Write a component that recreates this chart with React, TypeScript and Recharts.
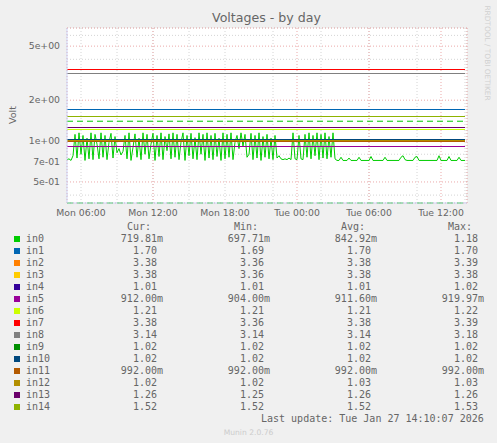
import { LineChart, Line, XAxis, YAxis, CartesianGrid, ReferenceLine } from 'recharts';

// time axis in minutes from Mon 00:00, samples every 10 minutes from Mon 04:50
const startMinute = 290;
const stepMinutes = 10;
const endMinute = 2290;

const timeTicks = [360, 720, 1080, 1440, 1800, 2160];
const timeLabels = ['Mon 06:00', 'Mon 12:00', 'Mon 18:00', 'Tue 00:00', 'Tue 06:00', 'Tue 12:00'];
const hourTicks = Array.from({ length: 34 }, (_, i) => 300 + i * 60);

const voltTicks = [0.5, 0.7, 1, 2, 5];
const voltLabels = ['5e-01', '7e-01', '1e+00', '2e+00', '5e+00'];
const minorVoltTicks = [0.4, 0.6, 0.8, 3, 4, 6];

const seriesNames = ['in0', 'in1', 'in2', 'in3', 'in4', 'in5', 'in6', 'in7', 'in8', 'in9', 'in10', 'in11', 'in12', 'in13', 'in14'];
const seriesColors = ['#00CC00', '#0066B3', '#FF8000', '#FFCC00', '#330099', '#990099', '#CCFF00', '#FF0000', '#808080', '#008F00', '#00487D', '#B35A00', '#B38F00', '#6B006B', '#8FB300'];

// in0 is the only one that moves
const in0Values = [
  0.73, 0.74, 0.72, 0.78,
  1.12, 0.75, 1.15, 0.8, 1.1, 0.72, 1.05, 0.74, 1.15, 0.73,
  1.12, 0.95, 0.74, 1.15, 0.76, 1.1, 0.73, 0.98, 1.14, 0.75,
  1.08, 0.82, 0.88, 0.79, 0.84, 1.1, 0.74, 1.15, 0.72, 0.9,
  1.13, 0.76, 1.05, 0.73, 1.15, 0.8, 1.12, 0.74, 0.95, 1.14,
  0.72, 1.1, 0.77, 1.15, 0.73, 1.08, 0.85, 1.13, 0.74, 1.15,
  0.76, 1.12, 0.73, 0.98, 1.15, 0.72, 1.1, 0.78, 1.14, 0.74,
  1.06, 0.73, 1.15, 0.8, 1.12, 0.72, 1.15, 0.75, 1.1, 0.73,
  1.14, 0.77, 1.05, 0.72, 1.15, 0.74, 1.12, 0.76, 1.15, 0.73,
  0.98, 1.1, 0.88, 1.15, 0.92, 1.12, 0.76, 0.8, 1.14, 0.73,
  1.1, 0.75, 1.15, 0.72, 1.08, 0.76,
  1.12, 0.74, 1.05, 0.73, 1.1, 0.75, 0.78, 0.74,
  0.73, 0.74, 0.73, 0.75, 0.73, 1.15,
  0.74, 0.73, 1.1, 0.74,
  0.73,
  1.12, 0.76, 1.15, 0.74, 1.1, 0.78, 1.15, 0.73, 1.12, 0.75, 1.15, 0.74, 1.08, 0.76, 1.15, 0.74,
  0.72, 0.72, 0.76, 0.72, 0.72, 0.72, 0.75, 0.72, 0.72, 0.72,
  0.72, 0.76, 0.72, 0.72, 0.72, 0.72, 0.72, 0.77, 0.72, 0.72,
  0.72, 0.72, 0.72, 0.72, 0.76, 0.72, 0.72, 0.72, 0.72, 0.72,
  0.72, 0.72, 0.76, 0.78, 0.73, 0.72, 0.72, 0.72, 0.72, 0.76,
  0.77, 0.72, 0.72, 0.72, 0.72, 0.72, 0.72, 0.72, 0.72, 0.72,
  0.72, 0.78, 0.72, 0.72, 0.72, 0.72, 0.77, 0.72, 0.72, 0.72,
  0.72, 0.76, 0.72, 0.72, 0.72,
];

// the other sensors sit flat for the whole day
const flatLevels = [0, 1.7, 3.38, 3.38, 1.01, 0.912, 1.21, 3.38, 3.14, 1.02, 1.024, 0.992, 1.018, 1.26, 1.52];

const in0Warn = [1.4, 0.35];

const curVals = ['719.81m', '1.70 ', '3.38 ', '3.38 ', '1.01 ', '912.00m', '1.21 ', '3.38 ', '3.14 ', '1.02 ', '1.02 ', '992.00m', '1.02 ', '1.26 ', '1.52 '];
const minVals = ['697.71m', '1.69 ', '3.36 ', '3.36 ', '1.01 ', '904.00m', '1.21 ', '3.36 ', '3.14 ', '1.02 ', '1.02 ', '992.00m', '1.02 ', '1.25 ', '1.52 '];
const avgVals = ['842.92m', '1.70 ', '3.38 ', '3.38 ', '1.01 ', '911.60m', '1.21 ', '3.38 ', '3.14 ', '1.02 ', '1.02 ', '992.00m', '1.03 ', '1.26 ', '1.52 '];
const maxVals = ['1.18 ', '1.70 ', '3.39 ', '3.38 ', '1.02 ', '919.97m', '1.22 ', '3.39 ', '3.18 ', '1.02 ', '1.02 ', '992.00m', '1.03 ', '1.26 ', '1.53 '];

const rows = in0Values.map((v, i) => {
  const row: Record<string, number> = { t: startMinute + i * stepMinutes, in0: v };
  seriesNames.forEach((name, k) => {
    if (k > 0) row[name] = flatLevels[k];
  });
  return row;
});

const FONT = '#666666';
const AXIS = '#CFD6F8';
const mono = '"DejaVu Sans Mono", monospace';

const colRight = [163, 270, 377, 484];
const colHeads = ['Cur:', 'Min:', 'Avg:', 'Max:'];
const colVals = [curVals, minVals, avgVals, maxVals];

export default function App() {
  return (
    <div style={{ position: 'absolute', left: 0, top: 0, width: 497, height: 443, background: '#F0F0F0', fontFamily: '"DejaVu Sans", sans-serif', overflow: 'hidden' }}>
      <style>{'.flat-line { shape-rendering: crispEdges; }'}</style>
      <div style={{ position: 'absolute', left: 0, top: 10, width: 533, textAlign: 'center', fontSize: 12.6, color: FONT }}>Voltages - by day</div>
      <div style={{ position: 'absolute', left: 12, top: 115, transform: 'translate(-50%, -50%) rotate(-90deg)', fontSize: 9.5, color: FONT }}>Volt</div>
      <div style={{ position: 'absolute', left: 487, top: 53, transform: 'translate(-50%, -50%) rotate(90deg)', fontSize: 7.4, color: '#D0D0D0', whiteSpace: 'nowrap' }}>RRDTOOL / TOBI OETIKER</div>

      <div style={{ position: 'absolute', left: 0, top: 0 }}>
        <LineChart width={497} height={230} data={rows} margin={{ top: 28, right: 30, left: 0, bottom: 7 }}>
          <CartesianGrid xAxisId="hours" yAxisId="minor" fill="#FFFFFF" stroke="#D4D4D4" strokeDasharray="1 2" />
          <CartesianGrid stroke="#EBA9A9" strokeDasharray="1 2" />
          <XAxis xAxisId="hours" type="number" dataKey="t" domain={[startMinute, endMinute]} ticks={hourTicks} allowDataOverflow hide />
          <YAxis yAxisId="minor" scale="log" type="number" domain={[0.35, 6.8]} ticks={minorVoltTicks} allowDataOverflow hide />
          <XAxis
            type="number"
            dataKey="t"
            domain={[startMinute, endMinute]}
            ticks={timeTicks}
            tickFormatter={(v: number) => timeLabels[timeTicks.indexOf(v)]}
            allowDataOverflow
            height={20}
            axisLine={{ stroke: AXIS }}
            tickLine={false}
            tickSize={4}
            tickMargin={2}
            tick={{ fontSize: 9.3, fill: FONT }}
          />
          <YAxis
            scale="log"
            type="number"
            domain={[0.35, 6.8]}
            ticks={voltTicks}
            tickFormatter={(v: number) => voltLabels[voltTicks.indexOf(v)]}
            allowDataOverflow
            width={67}
            axisLine={{ stroke: AXIS }}
            tickLine={false}
            tickSize={5}
            tickMargin={2}
            tick={{ fontSize: 9.3, fill: FONT }}
          />
          {in0Warn.map((w) => (
            <ReferenceLine key={w} y={w} stroke="#00CC00" strokeDasharray="6 4" strokeWidth={1} ifOverflow="extendDomain" />
          ))}
          {seriesNames.map((name, k) => (
            <Line
              key={name}
              dataKey={name}
              stroke={seriesColors[k]}
              strokeWidth={1}
              dot={false}
              type="linear"
              className={k === 0 ? undefined : 'flat-line'}
              isAnimationActive={false}
            />
          ))}
        </LineChart>
      </div>

      <div style={{ fontFamily: mono, fontSize: 10, color: FONT }}>
        {colHeads.map((h, c) => (
          <div key={h} style={{ position: 'absolute', top: 221, left: colRight[c] - 36, whiteSpace: 'pre' }}>{h}</div>
        ))}
        {seriesNames.map((name, k) => (
          <div key={name}>
            <div style={{ position: 'absolute', left: 14, top: 236 + k * 12, width: 6, height: 6, background: seriesColors[k] }} />
            <div style={{ position: 'absolute', left: 26, top: 233 + k * 12, whiteSpace: 'pre' }}>{name}</div>
            {colVals.map((vals, c) => (
              <div key={c} style={{ position: 'absolute', left: colRight[c] - 100, width: 100, top: 233 + k * 12, textAlign: 'right', whiteSpace: 'pre' }}>{vals[k]}</div>
            ))}
          </div>
        ))}
        <div style={{ position: 'absolute', left: 261, top: 413, whiteSpace: 'pre' }}>Last update: Tue Jan 27 14:10:07 2026</div>
      </div>
      <div style={{ position: 'absolute', left: 0, width: 497, top: 428, textAlign: 'center', fontSize: 7.6, color: '#CCCCCC' }}>Munin 2.0.76</div>
    </div>
  );
}
